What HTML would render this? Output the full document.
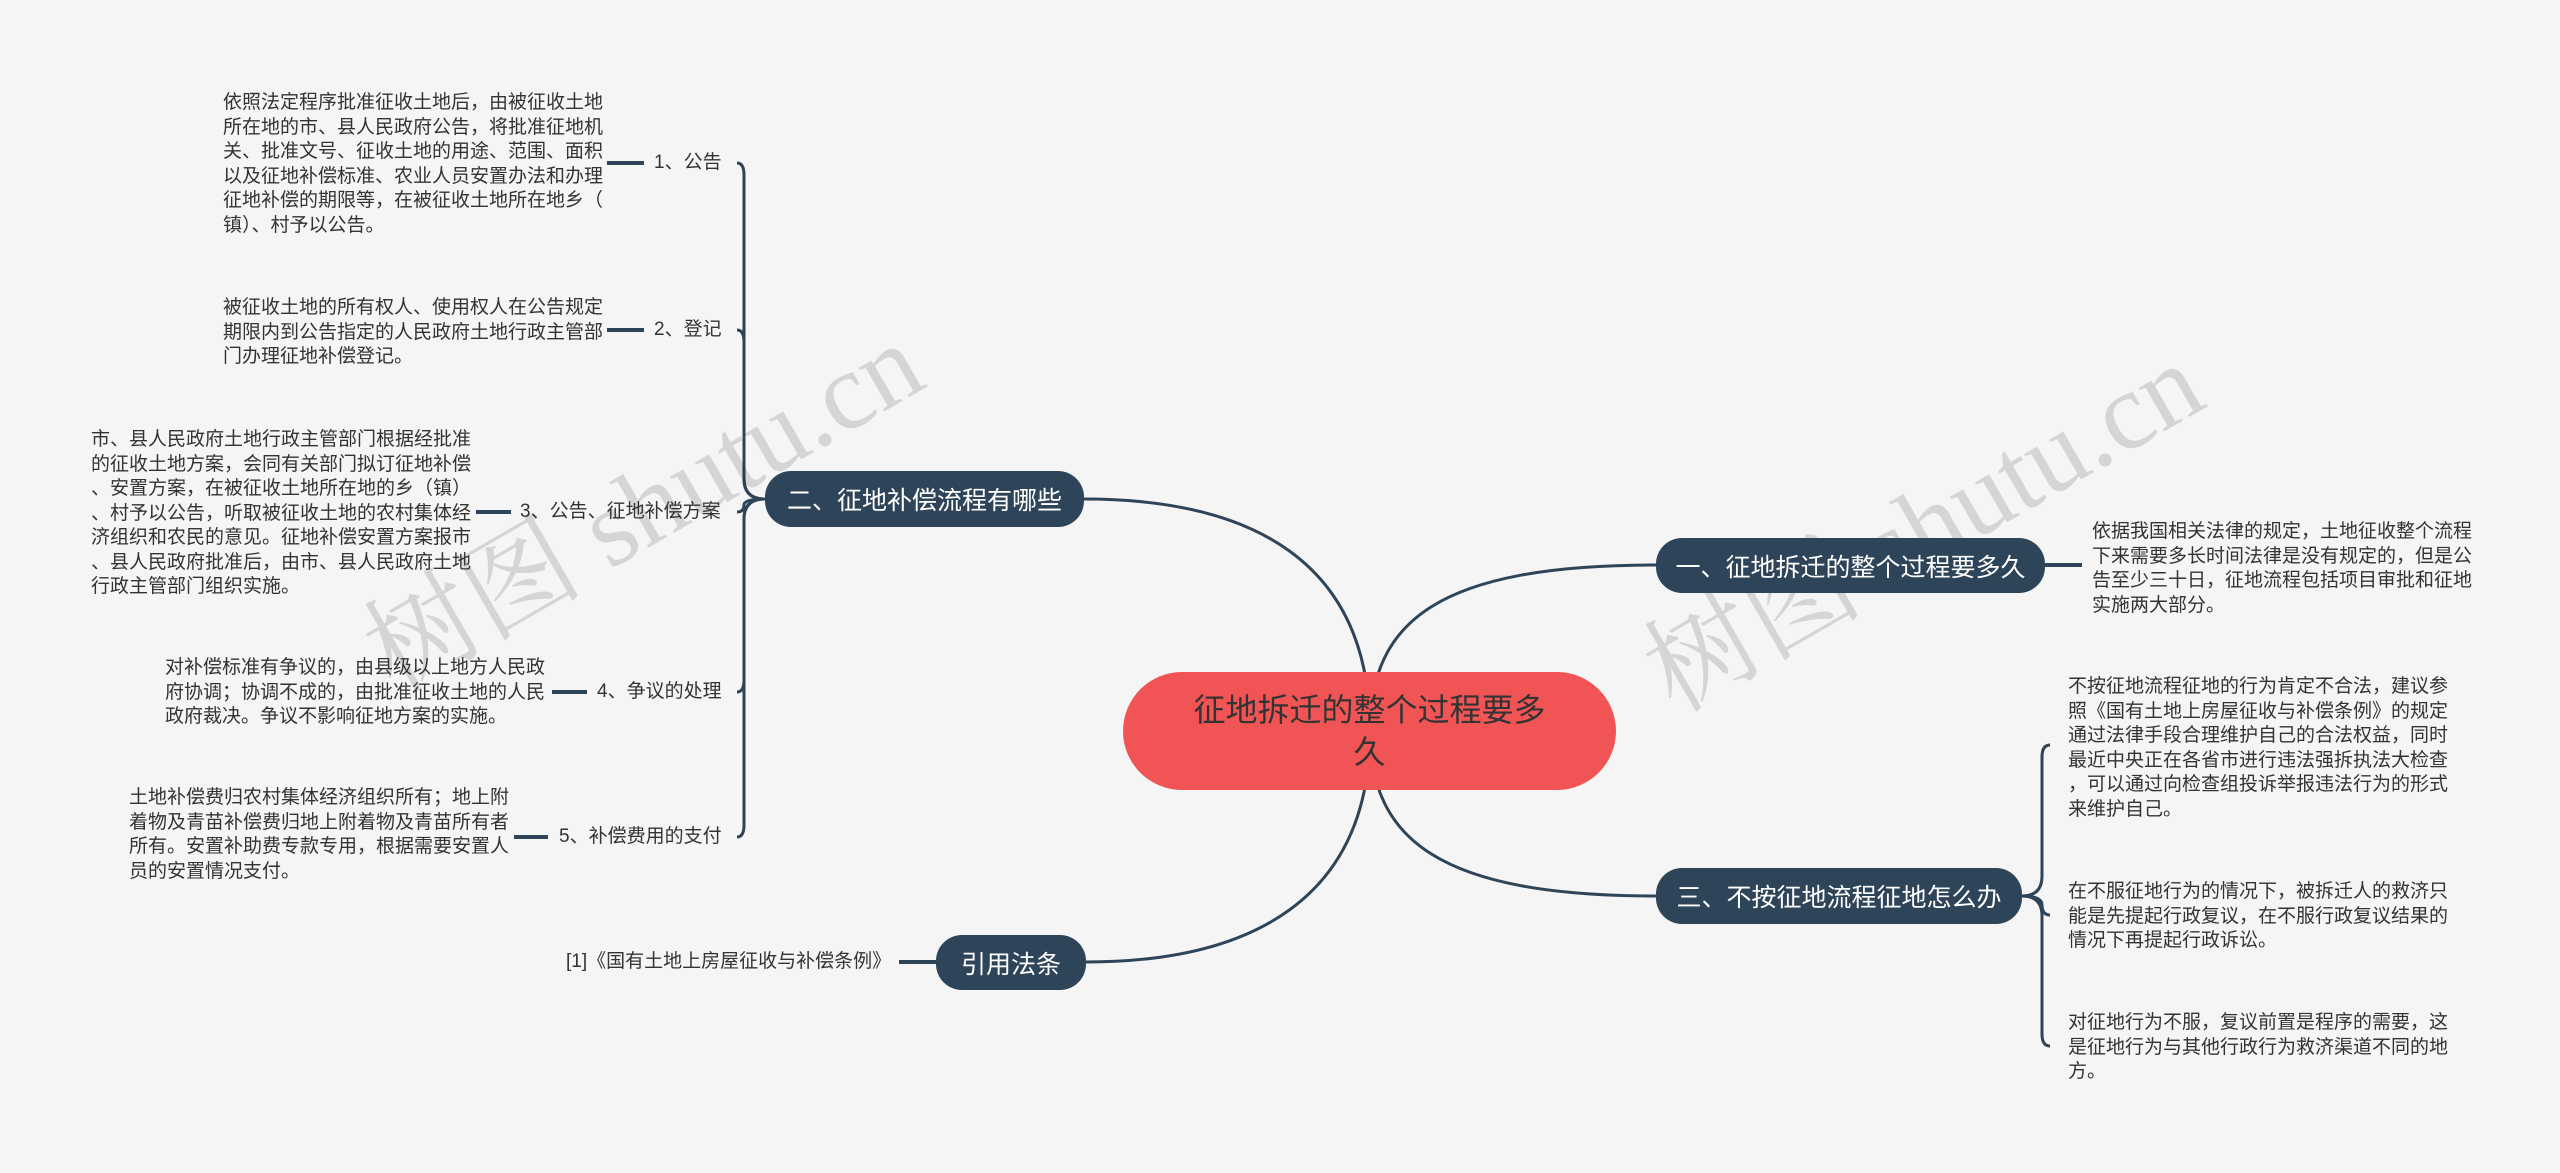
<!DOCTYPE html>
<html><head><meta charset="utf-8"><style>
body{margin:0;width:2560px;height:1173px;background:#f5f5f5;position:relative;overflow:hidden;font-family:"Liberation Sans","Noto Sans CJK SC",sans-serif;}
.t{position:absolute;font-size:19px;line-height:24.5px;color:#333;white-space:nowrap;}
.l{position:absolute;font-size:19px;color:#333;white-space:nowrap;line-height:24px;}
.n{position:absolute;background:#2e4459;color:#fff;border-radius:26px;font-size:25px;display:flex;align-items:center;justify-content:center;white-space:nowrap;}
.wm{position:absolute;font-family:"Liberation Serif","Noto Serif CJK SC",serif;font-size:110px;color:rgba(0,0,0,0.13);transform:rotate(-30deg);white-space:nowrap;}
</style></head><body>
<svg width="2560" height="1173" style="position:absolute;left:0;top:0" fill="none" stroke="#2e4459" stroke-width="3">
<path d="M1370 731 C1370 560 1250 499 1084 499"/>
<path d="M1370 731 C1370 620 1440 565 1656 565"/>
<path d="M1370 731 C1370 840 1440 896 1656 896"/>
<path d="M1370 731 C1370 900 1250 962 1086 962"/>
<path d="M765 499 Q744 499 744 479 L744 175 Q744 163 737 163"/>
<path d="M765 499 Q744 499 744 479 L744 342 Q744 330 737 330"/>
<path d="M765 499 Q744 499 744 505 Q744 512 737 512"/>
<path d="M765 499 Q744 499 744 519 L744 680 Q744 692 737 692"/>
<path d="M765 499 Q744 499 744 519 L744 825 Q744 837 737 837"/>
<path d="M2022 896 Q2042 896 2042 876 L2042 757 Q2042 745 2050 745"/>
<path d="M2022 896 Q2042 896 2042 905 Q2042 915 2050 915"/>
<path d="M2022 896 Q2042 896 2042 916 L2042 1034 Q2042 1046 2050 1046"/>
<g stroke-width="4">
<line x1="607" y1="163" x2="644" y2="163"/><line x1="607" y1="330" x2="644" y2="330"/>
<line x1="476" y1="512" x2="511" y2="512"/><line x1="552" y1="692" x2="587" y2="692"/>
<line x1="514" y1="837" x2="548" y2="837"/><line x1="899" y1="962" x2="936" y2="962"/>
<line x1="2045" y1="565" x2="2082" y2="565"/>
</g>
</svg>
<div class="wm" style="left:330px;top:420px">树图 shutu.cn</div>
<div class="wm" style="left:1610px;top:440px">树图 shutu.cn</div>

<div style="position:absolute;left:1123px;top:672px;width:493px;height:118px;background:#f05454;border-radius:59px;display:flex;align-items:center;justify-content:center;text-align:center;font-size:32px;line-height:42px;color:#333;"><div style="width:370px">征地拆迁的整个过程要多久</div></div>

<div class="n" style="left:765px;top:471px;width:319px;height:56px">二、征地补偿流程有哪些</div>
<div class="n" style="left:1656px;top:538px;width:389px;height:55px">一、征地拆迁的整个过程要多久</div>
<div class="n" style="left:1656px;top:868px;width:366px;height:56px">三、不按征地流程征地怎么办</div>
<div class="n" style="left:936px;top:935px;width:150px;height:55px">引用法条</div>

<div class="l" style="left:654px;top:151px">1、公告</div>
<div class="l" style="left:654px;top:318px">2、登记</div>
<div class="l" style="left:520px;top:500px">3、公告、征地补偿方案</div>
<div class="l" style="left:597px;top:680px">4、争议的处理</div>
<div class="l" style="left:559px;top:825px">5、补偿费用的支付</div>
<div class="l" style="left:566px;top:950px">[1]《国有土地上房屋征收与补偿条例》</div>

<div class="t" style="left:223px;top:91px">依照法定程序批准征收土地后，由被征收土地<br>所在地的市、县人民政府公告，将批准征地机<br>关、批准文号、征收土地的用途、范围、面积<br>以及征地补偿标准、农业人员安置办法和办理<br>征地补偿的期限等，在被征收土地所在地乡（<br>镇）、村予以公告。</div>
<div class="t" style="left:223px;top:296px">被征收土地的所有权人、使用权人在公告规定<br>期限内到公告指定的人民政府土地行政主管部<br>门办理征地补偿登记。</div>
<div class="t" style="left:91px;top:428px">市、县人民政府土地行政主管部门根据经批准<br>的征收土地方案，会同有关部门拟订征地补偿<br>、安置方案，在被征收土地所在地的乡（镇）<br>、村予以公告，听取被征收土地的农村集体经<br>济组织和农民的意见。征地补偿安置方案报市<br>、县人民政府批准后，由市、县人民政府土地<br>行政主管部门组织实施。</div>
<div class="t" style="left:165px;top:656px">对补偿标准有争议的，由县级以上地方人民政<br>府协调；协调不成的，由批准征收土地的人民<br>政府裁决。争议不影响征地方案的实施。</div>
<div class="t" style="left:129px;top:786px">土地补偿费归农村集体经济组织所有；地上附<br>着物及青苗补偿费归地上附着物及青苗所有者<br>所有。安置补助费专款专用，根据需要安置人<br>员的安置情况支付。</div>
<div class="t" style="left:2092px;top:520px">依据我国相关法律的规定，土地征收整个流程<br>下来需要多长时间法律是没有规定的，但是公<br>告至少三十日，征地流程包括项目审批和征地<br>实施两大部分。</div>
<div class="t" style="left:2068px;top:675px">不按征地流程征地的行为肯定不合法，建议参<br>照《国有土地上房屋征收与补偿条例》的规定<br>通过法律手段合理维护自己的合法权益，同时<br>最近中央正在各省市进行违法强拆执法大检查<br>，可以通过向检查组投诉举报违法行为的形式<br>来维护自己。</div>
<div class="t" style="left:2068px;top:880px">在不服征地行为的情况下，被拆迁人的救济只<br>能是先提起行政复议，在不服行政复议结果的<br>情况下再提起行政诉讼。</div>
<div class="t" style="left:2068px;top:1011px">对征地行为不服，复议前置是程序的需要，这<br>是征地行为与其他行政行为救济渠道不同的地<br>方。</div>
</body></html>
